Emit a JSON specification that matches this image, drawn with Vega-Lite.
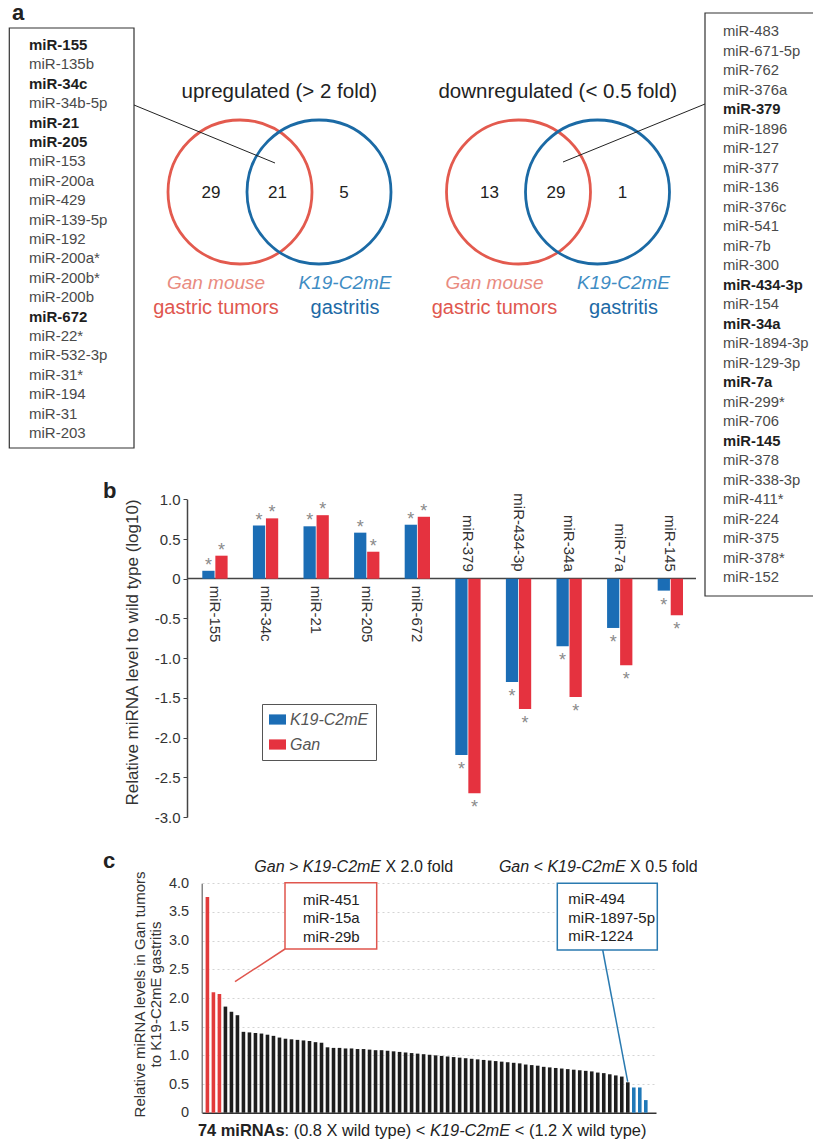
{
  "$schema": "https://vega.github.io/schema/vega-lite/v6.json",
  "width": 813,
  "height": 1145,
  "autosize": {"type": "none"},
  "padding": 0,
  "background": "white",
  "config": {"view": {"stroke": null}, "font": "Liberation Sans"},
  "data": {"values": [{"figure": "miRNA profiling of Gan mouse tumors and K19-C2mE gastritis"}]},
  "datasets": {
    "upList": [
      {"mirna": "miR-155", "validated": true},
      {"mirna": "miR-135b", "validated": false},
      {"mirna": "miR-34c", "validated": true},
      {"mirna": "miR-34b-5p", "validated": false},
      {"mirna": "miR-21", "validated": true},
      {"mirna": "miR-205", "validated": true},
      {"mirna": "miR-153", "validated": false},
      {"mirna": "miR-200a", "validated": false},
      {"mirna": "miR-429", "validated": false},
      {"mirna": "miR-139-5p", "validated": false},
      {"mirna": "miR-192", "validated": false},
      {"mirna": "miR-200a*", "validated": false},
      {"mirna": "miR-200b*", "validated": false},
      {"mirna": "miR-200b", "validated": false},
      {"mirna": "miR-672", "validated": true},
      {"mirna": "miR-22*", "validated": false},
      {"mirna": "miR-532-3p", "validated": false},
      {"mirna": "miR-31*", "validated": false},
      {"mirna": "miR-194", "validated": false},
      {"mirna": "miR-31", "validated": false},
      {"mirna": "miR-203", "validated": false}
    ],
    "downList": [
      {"mirna": "miR-483", "validated": false},
      {"mirna": "miR-671-5p", "validated": false},
      {"mirna": "miR-762", "validated": false},
      {"mirna": "miR-376a", "validated": false},
      {"mirna": "miR-379", "validated": true},
      {"mirna": "miR-1896", "validated": false},
      {"mirna": "miR-127", "validated": false},
      {"mirna": "miR-377", "validated": false},
      {"mirna": "miR-136", "validated": false},
      {"mirna": "miR-376c", "validated": false},
      {"mirna": "miR-541", "validated": false},
      {"mirna": "miR-7b", "validated": false},
      {"mirna": "miR-300", "validated": false},
      {"mirna": "miR-434-3p", "validated": true},
      {"mirna": "miR-154", "validated": false},
      {"mirna": "miR-34a", "validated": true},
      {"mirna": "miR-1894-3p", "validated": false},
      {"mirna": "miR-129-3p", "validated": false},
      {"mirna": "miR-7a", "validated": true},
      {"mirna": "miR-299*", "validated": false},
      {"mirna": "miR-706", "validated": false},
      {"mirna": "miR-145", "validated": true},
      {"mirna": "miR-378", "validated": false},
      {"mirna": "miR-338-3p", "validated": false},
      {"mirna": "miR-411*", "validated": false},
      {"mirna": "miR-224", "validated": false},
      {"mirna": "miR-375", "validated": false},
      {"mirna": "miR-378*", "validated": false},
      {"mirna": "miR-152", "validated": false}
    ],
    "vennSets": [
      {"diagram": "upregulated (> 2 fold)", "set": "Gan", "model": "Gan mouse", "tissue": "gastric tumors"},
      {"diagram": "upregulated (> 2 fold)", "set": "K19-C2mE", "model": "K19-C2mE", "tissue": "gastritis"},
      {"diagram": "downregulated (< 0.5 fold)", "set": "Gan", "model": "Gan mouse", "tissue": "gastric tumors"},
      {"diagram": "downregulated (< 0.5 fold)", "set": "K19-C2mE", "model": "K19-C2mE", "tissue": "gastritis"}
    ],
    "vennCounts": [
      {"diagram": "upregulated (> 2 fold)", "region": "Gan only", "count": 29},
      {"diagram": "upregulated (> 2 fold)", "region": "both", "count": 21},
      {"diagram": "upregulated (> 2 fold)", "region": "K19-C2mE only", "count": 5},
      {"diagram": "downregulated (< 0.5 fold)", "region": "Gan only", "count": 13},
      {"diagram": "downregulated (< 0.5 fold)", "region": "both", "count": 29},
      {"diagram": "downregulated (< 0.5 fold)", "region": "K19-C2mE only", "count": 1}
    ],
    "panelB": [
      {"mirna": "miR-155", "strain": "K19-C2mE", "value": 0.10, "sig": "*"},
      {"mirna": "miR-155", "strain": "Gan", "value": 0.29, "sig": "*"},
      {"mirna": "miR-34c", "strain": "K19-C2mE", "value": 0.67, "sig": "*"},
      {"mirna": "miR-34c", "strain": "Gan", "value": 0.76, "sig": "*"},
      {"mirna": "miR-21", "strain": "K19-C2mE", "value": 0.66, "sig": "*"},
      {"mirna": "miR-21", "strain": "Gan", "value": 0.80, "sig": "*"},
      {"mirna": "miR-205", "strain": "K19-C2mE", "value": 0.58, "sig": "*"},
      {"mirna": "miR-205", "strain": "Gan", "value": 0.34, "sig": "*"},
      {"mirna": "miR-672", "strain": "K19-C2mE", "value": 0.68, "sig": "*"},
      {"mirna": "miR-672", "strain": "Gan", "value": 0.78, "sig": "*"},
      {"mirna": "miR-379", "strain": "K19-C2mE", "value": -2.22, "sig": "*"},
      {"mirna": "miR-379", "strain": "Gan", "value": -2.70, "sig": "*"},
      {"mirna": "miR-434-3p", "strain": "K19-C2mE", "value": -1.30, "sig": "*"},
      {"mirna": "miR-434-3p", "strain": "Gan", "value": -1.64, "sig": "*"},
      {"mirna": "miR-34a", "strain": "K19-C2mE", "value": -0.85, "sig": "*"},
      {"mirna": "miR-34a", "strain": "Gan", "value": -1.49, "sig": "*"},
      {"mirna": "miR-7a", "strain": "K19-C2mE", "value": -0.62, "sig": "*"},
      {"mirna": "miR-7a", "strain": "Gan", "value": -1.09, "sig": "*"},
      {"mirna": "miR-145", "strain": "K19-C2mE", "value": -0.15, "sig": "*"},
      {"mirna": "miR-145", "strain": "Gan", "value": -0.46, "sig": "*"}
    ],
    "panelC": [
      {"mirna": "miR-451", "ratio": 3.76, "class": "higher in Gan"},
      {"mirna": "miR-15a", "ratio": 2.10, "class": "higher in Gan"},
      {"mirna": "miR-29b", "ratio": 2.07, "class": "higher in Gan"},
      {"mirna": "other-01", "ratio": 1.85, "class": "similar"},
      {"mirna": "other-02", "ratio": 1.76, "class": "similar"},
      {"mirna": "other-03", "ratio": 1.70, "class": "similar"},
      {"mirna": "other-04", "ratio": 1.41, "class": "similar"},
      {"mirna": "other-05", "ratio": 1.40, "class": "similar"},
      {"mirna": "other-06", "ratio": 1.39, "class": "similar"},
      {"mirna": "other-07", "ratio": 1.38, "class": "similar"},
      {"mirna": "other-08", "ratio": 1.36, "class": "similar"},
      {"mirna": "other-09", "ratio": 1.34, "class": "similar"},
      {"mirna": "other-10", "ratio": 1.31, "class": "similar"},
      {"mirna": "other-11", "ratio": 1.29, "class": "similar"},
      {"mirna": "other-12", "ratio": 1.28, "class": "similar"},
      {"mirna": "other-13", "ratio": 1.27, "class": "similar"},
      {"mirna": "other-14", "ratio": 1.26, "class": "similar"},
      {"mirna": "other-15", "ratio": 1.25, "class": "similar"},
      {"mirna": "other-16", "ratio": 1.23, "class": "similar"},
      {"mirna": "other-17", "ratio": 1.22, "class": "similar"},
      {"mirna": "other-18", "ratio": 1.14, "class": "similar"},
      {"mirna": "other-19", "ratio": 1.13, "class": "similar"},
      {"mirna": "other-20", "ratio": 1.13, "class": "similar"},
      {"mirna": "other-21", "ratio": 1.12, "class": "similar"},
      {"mirna": "other-22", "ratio": 1.12, "class": "similar"},
      {"mirna": "other-23", "ratio": 1.11, "class": "similar"},
      {"mirna": "other-24", "ratio": 1.11, "class": "similar"},
      {"mirna": "other-25", "ratio": 1.10, "class": "similar"},
      {"mirna": "other-26", "ratio": 1.09, "class": "similar"},
      {"mirna": "other-27", "ratio": 1.09, "class": "similar"},
      {"mirna": "other-28", "ratio": 1.08, "class": "similar"},
      {"mirna": "other-29", "ratio": 1.07, "class": "similar"},
      {"mirna": "other-30", "ratio": 1.06, "class": "similar"},
      {"mirna": "other-31", "ratio": 1.05, "class": "similar"},
      {"mirna": "other-32", "ratio": 1.04, "class": "similar"},
      {"mirna": "other-33", "ratio": 1.03, "class": "similar"},
      {"mirna": "other-34", "ratio": 1.02, "class": "similar"},
      {"mirna": "other-35", "ratio": 1.01, "class": "similar"},
      {"mirna": "other-36", "ratio": 1.00, "class": "similar"},
      {"mirna": "other-37", "ratio": 0.99, "class": "similar"},
      {"mirna": "other-38", "ratio": 0.98, "class": "similar"},
      {"mirna": "other-39", "ratio": 0.97, "class": "similar"},
      {"mirna": "other-40", "ratio": 0.96, "class": "similar"},
      {"mirna": "other-41", "ratio": 0.95, "class": "similar"},
      {"mirna": "other-42", "ratio": 0.94, "class": "similar"},
      {"mirna": "other-43", "ratio": 0.93, "class": "similar"},
      {"mirna": "other-44", "ratio": 0.92, "class": "similar"},
      {"mirna": "other-45", "ratio": 0.91, "class": "similar"},
      {"mirna": "other-46", "ratio": 0.90, "class": "similar"},
      {"mirna": "other-47", "ratio": 0.89, "class": "similar"},
      {"mirna": "other-48", "ratio": 0.88, "class": "similar"},
      {"mirna": "other-49", "ratio": 0.87, "class": "similar"},
      {"mirna": "other-50", "ratio": 0.86, "class": "similar"},
      {"mirna": "other-51", "ratio": 0.84, "class": "similar"},
      {"mirna": "other-52", "ratio": 0.83, "class": "similar"},
      {"mirna": "other-53", "ratio": 0.82, "class": "similar"},
      {"mirna": "other-54", "ratio": 0.80, "class": "similar"},
      {"mirna": "other-55", "ratio": 0.79, "class": "similar"},
      {"mirna": "other-56", "ratio": 0.78, "class": "similar"},
      {"mirna": "other-57", "ratio": 0.77, "class": "similar"},
      {"mirna": "other-58", "ratio": 0.76, "class": "similar"},
      {"mirna": "other-59", "ratio": 0.75, "class": "similar"},
      {"mirna": "other-60", "ratio": 0.74, "class": "similar"},
      {"mirna": "other-61", "ratio": 0.73, "class": "similar"},
      {"mirna": "other-62", "ratio": 0.72, "class": "similar"},
      {"mirna": "other-63", "ratio": 0.70, "class": "similar"},
      {"mirna": "other-64", "ratio": 0.69, "class": "similar"},
      {"mirna": "other-65", "ratio": 0.67, "class": "similar"},
      {"mirna": "other-66", "ratio": 0.65, "class": "similar"},
      {"mirna": "other-67", "ratio": 0.63, "class": "similar"},
      {"mirna": "other-68", "ratio": 0.53, "class": "similar"},
      {"mirna": "miR-494", "ratio": 0.44, "class": "lower in Gan"},
      {"mirna": "miR-1897-5p", "ratio": 0.44, "class": "lower in Gan"},
      {"mirna": "miR-1224", "ratio": 0.22, "class": "lower in Gan"}
    ]
  },
  "layer": [
    {
      "data": {"name": "panelC"},
      "mark": {"type": "bar"},
      "encoding": {
        "x": {"field": "mirna", "type": "nominal", "sort": null,
              "scale": {"type": "band", "range": [202, 656], "paddingInner": 0.4, "paddingOuter": 3.02, "align": 0.3},
              "axis": {"orient": "bottom", "offset": -32.3, "labels": false, "ticks": false, "title": null, "domainColor": "#333", "domainWidth": 1.5, "grid": false}},
        "y": {"field": "ratio", "type": "quantitative",
              "scale": {"domain": [0, 4], "range": [1112.7, 883.3], "nice": false, "zero": false},
              "axis": {"orient": "left", "offset": -201.7, "values": [0, 0.5, 1, 1.5, 2, 2.5, 3, 3.5, 4],
                       "labelExpr": "datum.value == 0 ? '0' : format(datum.value, '.1f')",
                       "labelFontSize": 14.5, "labelColor": "#333", "labelPadding": 13, "tickSize": 0,
                       "domainColor": "#666", "domainWidth": 1.2,
                       "grid": true, "gridColor": "#d4d4d4", "gridDash": [2, 3], "gridWidth": 1,
                       "title": ["Relative miRNA levels in Gan tumors", "to K19-C2mE gastritis"],
                       "titleFontSize": 15, "titleFontWeight": "normal", "titleColor": "#333",
                       "titleX": -62.4, "titleY": 994, "titleAngle": -90, "titleAlign": "center", "titleBaseline": "middle", "titleLineHeight": 16.7}},
        "color": {"field": "class", "type": "nominal",
                  "scale": {"domain": ["higher in Gan", "similar", "lower in Gan"], "range": ["#e23b3b", "#1e1e1e", "#1f78b8"]},
                  "legend": null}
      }
    },
    {
      "data": {"name": "panelB"},
      "encoding": {
        "x": {"field": "mirna", "type": "nominal", "sort": null,
              "scale": {"type": "band", "domain": ["miR-155", "miR-34c", "miR-21", "miR-205", "miR-672", "miR-379", "miR-434-3p", "miR-34a", "miR-7a", "miR-145"],
                        "range": [187, 695.5], "paddingInner": 0.5, "paddingOuter": 0.275, "align": 0.55},
              "axis": {"orient": "bottom", "offset": -567, "labels": false, "ticks": false, "title": null, "domainColor": "#444", "domainWidth": 1.5, "grid": false}},
        "y": {"field": "value", "type": "quantitative",
              "scale": {"domain": [-3, 1], "range": [817, 499.3], "nice": false, "zero": false},
              "axis": {"orient": "left", "offset": -187, "values": [-3, -2.5, -2, -1.5, -1, -0.5, 0, 0.5, 1],
                       "labelExpr": "datum.value == 0 ? '0' : ((datum.value < 0 ? '-' : '') + format(abs(datum.value), '.1f'))",
                       "labelFontSize": 15, "labelColor": "#333", "labelPadding": 3, "tickSize": 4, "tickColor": "#444",
                       "domainColor": "#444", "domainWidth": 1.5, "grid": false,
                       "title": "Relative miRNA level to wild type (log10)",
                       "titleFontSize": 17, "titleFontWeight": "normal", "titleColor": "#333",
                       "titleX": -55, "titleY": 652, "titleAngle": -90, "titleAlign": "center", "titleBaseline": "middle"}}
      },
      "layer": [
        {
          "mark": {"type": "bar"},
          "encoding": {
            "xOffset": {"field": "strain", "type": "nominal", "scale": {"domain": ["K19-C2mE", "Gan"], "paddingInner": 0.06}},
            "color": {"field": "strain", "type": "nominal",
                      "scale": {"domain": ["K19-C2mE", "Gan"], "range": ["#1b6db5", "#e5323f"]},
                      "legend": {"orient": "none", "legendX": 262, "legendY": 704, "title": null, "direction": "vertical",
                                 "labelFontStyle": "italic", "labelFontSize": 16, "labelColor": "#555",
                                 "symbolType": "M-1,-0.6H1V0.6H-1Z", "symbolSize": 289, "symbolStrokeWidth": 0, "symbolOpacity": 1,
                                 "strokeColor": "#555", "fillColor": "white", "padding": 7, "rowPadding": 8, "labelOffset": 4}}
          }
        },
        {
          "transform": [{"filter": "datum.value > 0"}],
          "mark": {"type": "text", "fontSize": 18, "color": "#8a8a8a", "baseline": "alphabetic", "dy": 0},
          "encoding": {
            "xOffset": {"field": "strain", "type": "nominal", "scale": {"domain": ["K19-C2mE", "Gan"], "paddingInner": 0.06}},
            "text": {"field": "sig"}
          }
        },
        {
          "transform": [{"filter": "datum.value < 0"}],
          "mark": {"type": "text", "fontSize": 18, "color": "#8a8a8a", "baseline": "alphabetic", "dy": 20},
          "encoding": {
            "xOffset": {"field": "strain", "type": "nominal", "scale": {"domain": ["K19-C2mE", "Gan"], "paddingInner": 0.06}},
            "text": {"field": "sig"}
          }
        },
        {
          "transform": [{"filter": "datum.strain == 'Gan' && datum.value > 0"}],
          "mark": {"type": "text", "angle": 90, "align": "left", "baseline": "middle", "dx": 7, "fontSize": 15, "color": "#333"},
          "encoding": {"y": {"datum": 0, "type": "quantitative"}, "text": {"field": "mirna"}}
        },
        {
          "transform": [{"filter": "datum.strain == 'Gan' && datum.value < 0"}],
          "mark": {"type": "text", "angle": 90, "align": "right", "baseline": "middle", "dx": -7, "fontSize": 15, "color": "#333"},
          "encoding": {"y": {"datum": 0, "type": "quantitative"}, "text": {"field": "mirna"}}
        }
      ]
    },
    {
      "encoding": {
        "x": {"field": "diagram", "type": "nominal", "sort": null,
              "scale": {"type": "band", "domain": ["upregulated (> 2 fold)", "downregulated (< 0.5 fold)"], "range": [140, 697], "paddingInner": 0, "paddingOuter": 0},
              "axis": null}
      },
      "layer": [
        {
          "data": {"name": "vennSets"},
          "mark": {"type": "point", "filled": false, "size": 20736, "strokeWidth": 2.8, "opacity": 1},
          "encoding": {
            "xOffset": {"field": "set", "type": "nominal", "scale": {"type": "point", "domain": ["Gan", "K19-C2mE"], "range": [100, 179], "padding": 0}},
            "y": {"datum": 192, "type": "quantitative", "scale": {"domain": [0, 1145], "reverse": true, "nice": false, "zero": false}, "axis": null},
            "stroke": {"field": "set", "type": "nominal", "scale": {"domain": ["Gan", "K19-C2mE"], "range": ["#e35a4e", "#1b6aa5"]}, "legend": null}
          }
        },
        {
          "data": {"name": "vennSets"},
          "transform": [{"filter": "datum.set == 'Gan'"}],
          "mark": {"type": "text", "fontSize": 20.5, "color": "#222", "baseline": "middle"},
          "encoding": {
            "y": {"datum": 92, "type": "quantitative", "scale": {"domain": [0, 1145], "reverse": true, "nice": false, "zero": false}, "axis": null},
            "text": {"field": "diagram"}
          }
        },
        {
          "data": {"name": "vennCounts"},
          "mark": {"type": "text", "fontSize": 17, "color": "#222", "baseline": "middle"},
          "encoding": {
            "xOffset": {"field": "region", "type": "nominal", "scale": {"type": "point", "domain": ["Gan only", "both", "K19-C2mE only"], "range": [71, 204], "padding": 0}},
            "y": {"datum": 193, "type": "quantitative", "scale": {"domain": [0, 1145], "reverse": true, "nice": false, "zero": false}, "axis": null},
            "text": {"field": "count"}
          }
        },
        {
          "data": {"name": "vennSets"},
          "mark": {"type": "text", "fontSize": 19, "fontStyle": "italic", "baseline": "middle"},
          "encoding": {
            "xOffset": {"field": "set", "type": "nominal", "scale": {"type": "point", "domain": ["Gan", "K19-C2mE"], "range": [76, 205], "padding": 0}},
            "y": {"datum": 283, "type": "quantitative", "scale": {"domain": [0, 1145], "reverse": true, "nice": false, "zero": false}, "axis": null},
            "text": {"field": "model"},
            "color": {"field": "set", "type": "nominal", "scale": {"domain": ["Gan", "K19-C2mE"], "range": ["#e98b80", "#3f8dc4"]}, "legend": null}
          }
        },
        {
          "data": {"name": "vennSets"},
          "mark": {"type": "text", "fontSize": 20, "baseline": "middle"},
          "encoding": {
            "xOffset": {"field": "set", "type": "nominal", "scale": {"type": "point", "domain": ["Gan", "K19-C2mE"], "range": [76, 205], "padding": 0}},
            "y": {"datum": 308, "type": "quantitative", "scale": {"domain": [0, 1145], "reverse": true, "nice": false, "zero": false}, "axis": null},
            "text": {"field": "tissue"},
            "color": {"field": "set", "type": "nominal", "scale": {"domain": ["Gan", "K19-C2mE"], "range": ["#e0574f", "#1d6aa6"]}, "legend": null}
          }
        }
      ],
      "resolve": {"scale": {"xOffset": "independent", "color": "independent", "stroke": "independent"}}
    },
    {
      "encoding": {
        "x": {"datum": 0, "type": "quantitative", "scale": {"domain": [0, 813], "nice": false, "zero": false}, "axis": null},
        "y": {"datum": 0, "type": "quantitative", "scale": {"domain": [0, 1145], "reverse": true, "nice": false, "zero": false}, "axis": null}
      },
      "layer": [
        {"mark": {"type": "rect", "fill": "white", "stroke": "#333", "strokeWidth": 1.2},
         "encoding": {"x": {"datum": 9.3}, "x2": {"datum": 134}, "y": {"datum": 28}, "y2": {"datum": 448}}},
        {"mark": {"type": "rect", "fill": "white", "stroke": "#333", "strokeWidth": 1.2},
         "encoding": {"x": {"datum": 705}, "x2": {"datum": 830}, "y": {"datum": 13}, "y2": {"datum": 596}}},
        {"mark": {"type": "rule", "color": "#222", "strokeWidth": 1},
         "encoding": {"x": {"datum": 134}, "y": {"datum": 105}, "x2": {"datum": 275}, "y2": {"datum": 163}}},
        {"mark": {"type": "rule", "color": "#222", "strokeWidth": 1},
         "encoding": {"x": {"datum": 705}, "y": {"datum": 104}, "x2": {"datum": 563}, "y2": {"datum": 162}}},
        {"mark": {"type": "rect", "fill": "white", "stroke": "#e0564e", "strokeWidth": 1.5},
         "encoding": {"x": {"datum": 285}, "x2": {"datum": 376.7}, "y": {"datum": 882.7}, "y2": {"datum": 949}}},
        {"mark": {"type": "rect", "fill": "white", "stroke": "#2a7ab0", "strokeWidth": 1.5},
         "encoding": {"x": {"datum": 557.3}, "x2": {"datum": 657.3}, "y": {"datum": 883.3}, "y2": {"datum": 950}}},
        {"mark": {"type": "rule", "color": "#e0564e", "strokeWidth": 1.5},
         "encoding": {"x": {"datum": 285}, "y": {"datum": 949}, "x2": {"datum": 235}, "y2": {"datum": 981.7}}},
        {"mark": {"type": "rule", "color": "#2a7ab0", "strokeWidth": 1.5},
         "encoding": {"x": {"datum": 602.7}, "y": {"datum": 950}, "x2": {"datum": 627.7}, "y2": {"datum": 1081.7}}},
        {"mark": {"type": "text", "text": "a", "fontSize": 22, "fontWeight": "bold", "align": "left", "baseline": "alphabetic", "color": "#222"},
         "encoding": {"x": {"datum": 12}, "y": {"datum": 20}}},
        {"mark": {"type": "text", "text": "b", "fontSize": 22, "fontWeight": "bold", "align": "left", "baseline": "alphabetic", "color": "#222"},
         "encoding": {"x": {"datum": 103}, "y": {"datum": 498}}},
        {"mark": {"type": "text", "text": "c", "fontSize": 22, "fontWeight": "bold", "align": "left", "baseline": "alphabetic", "color": "#222"},
         "encoding": {"x": {"datum": 103}, "y": {"datum": 868}}},
        {"mark": {"type": "text", "text": "Gan > K19-C2mE", "fontSize": 16, "fontStyle": "italic", "align": "left", "baseline": "middle", "color": "#222"},
         "encoding": {"x": {"datum": 254.3}, "y": {"datum": 866.7}}},
        {"mark": {"type": "text", "text": "X 2.0 fold", "fontSize": 16, "align": "left", "baseline": "middle", "color": "#222"},
         "encoding": {"x": {"datum": 385.5}, "y": {"datum": 866.7}}},
        {"mark": {"type": "text", "text": "Gan < K19-C2mE", "fontSize": 16, "fontStyle": "italic", "align": "left", "baseline": "middle", "color": "#222"},
         "encoding": {"x": {"datum": 498.9}, "y": {"datum": 866.7}}},
        {"mark": {"type": "text", "text": "X 0.5 fold", "fontSize": 16, "align": "left", "baseline": "middle", "color": "#222"},
         "encoding": {"x": {"datum": 630.1}, "y": {"datum": 866.7}}},
        {"mark": {"type": "text", "text": "74 miRNAs", "fontSize": 16.4, "fontWeight": "bold", "align": "left", "baseline": "middle", "color": "#222"},
         "encoding": {"x": {"datum": 198}, "y": {"datum": 1130.7}}},
        {"mark": {"type": "text", "text": ": (0.8 X wild type) <", "fontSize": 16.4, "align": "left", "baseline": "middle", "color": "#222"},
         "encoding": {"x": {"datum": 284.6}, "y": {"datum": 1130.7}}},
        {"mark": {"type": "text", "text": "K19-C2mE", "fontSize": 16.4, "fontStyle": "italic", "align": "left", "baseline": "middle", "color": "#222"},
         "encoding": {"x": {"datum": 430}, "y": {"datum": 1130.7}}},
        {"mark": {"type": "text", "text": "< (1.2 X wild type)", "fontSize": 16.4, "align": "left", "baseline": "middle", "color": "#222"},
         "encoding": {"x": {"datum": 514.8}, "y": {"datum": 1130.7}}}
      ]
    },
    {
      "data": {"name": "upList"},
      "transform": [{"window": [{"op": "row_number", "as": "line"}]}],
      "encoding": {
        "x": {"datum": 29, "type": "quantitative", "scale": {"domain": [0, 813], "nice": false, "zero": false}, "axis": null},
        "y": {"field": "line", "type": "quantitative", "scale": {"domain": [1, 21], "range": [45, 433], "nice": false, "zero": false}, "axis": null},
        "text": {"field": "mirna"}
      },
      "layer": [
        {"transform": [{"filter": "!datum.validated"}], "mark": {"type": "text", "align": "left", "baseline": "middle", "fontSize": 15, "color": "#4a4a4a"}},
        {"transform": [{"filter": "datum.validated"}], "mark": {"type": "text", "align": "left", "baseline": "middle", "fontSize": 15, "fontWeight": "bold", "color": "#1e1e1e"}}
      ]
    },
    {
      "data": {"name": "downList"},
      "transform": [{"window": [{"op": "row_number", "as": "line"}]}],
      "encoding": {
        "x": {"datum": 723, "type": "quantitative", "scale": {"domain": [0, 813], "nice": false, "zero": false}, "axis": null},
        "y": {"field": "line", "type": "quantitative", "scale": {"domain": [1, 29], "range": [32.3, 578], "nice": false, "zero": false}, "axis": null},
        "text": {"field": "mirna"}
      },
      "layer": [
        {"transform": [{"filter": "!datum.validated"}], "mark": {"type": "text", "align": "left", "baseline": "middle", "fontSize": 14.8, "color": "#4a4a4a"}},
        {"transform": [{"filter": "datum.validated"}], "mark": {"type": "text", "align": "left", "baseline": "middle", "fontSize": 14.8, "fontWeight": "bold", "color": "#1e1e1e"}}
      ]
    },
    {
      "data": {"name": "panelC"},
      "transform": [{"filter": "datum.class == 'higher in Gan'"}, {"window": [{"op": "row_number", "as": "line"}]}],
      "mark": {"type": "text", "align": "left", "baseline": "middle", "fontSize": 15, "color": "#222"},
      "encoding": {
        "x": {"datum": 303, "type": "quantitative", "scale": {"domain": [0, 813], "nice": false, "zero": false}, "axis": null},
        "y": {"field": "line", "type": "quantitative", "scale": {"domain": [1, 3], "range": [900, 936.7], "nice": false, "zero": false}, "axis": null},
        "text": {"field": "mirna"}
      }
    },
    {
      "data": {"name": "panelC"},
      "transform": [{"filter": "datum.class == 'lower in Gan'"}, {"window": [{"op": "row_number", "as": "line"}]}],
      "mark": {"type": "text", "align": "left", "baseline": "middle", "fontSize": 15, "color": "#222"},
      "encoding": {
        "x": {"datum": 568.3, "type": "quantitative", "scale": {"domain": [0, 813], "nice": false, "zero": false}, "axis": null},
        "y": {"field": "line", "type": "quantitative", "scale": {"domain": [1, 3], "range": [899.3, 936], "nice": false, "zero": false}, "axis": null},
        "text": {"field": "mirna"}
      }
    }
  ],
  "resolve": {
    "scale": {"x": "independent", "y": "independent", "xOffset": "independent", "color": "independent", "stroke": "independent"},
    "axis": {"x": "independent", "y": "independent"},
    "legend": {"color": "independent", "stroke": "independent"}
  }
}
